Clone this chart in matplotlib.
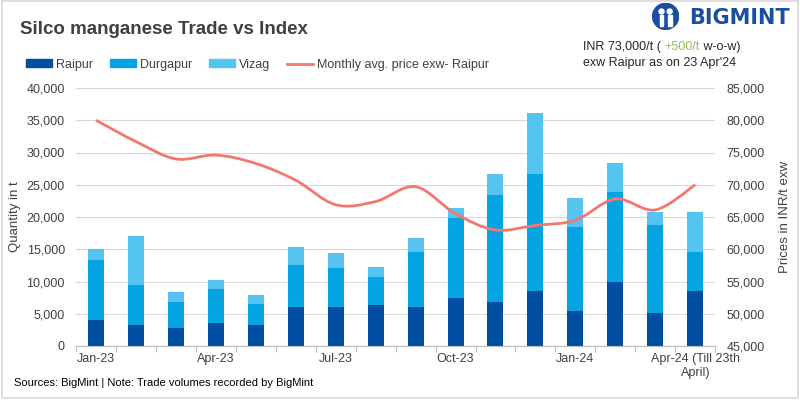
import matplotlib.pyplot as plt
import numpy as np
from matplotlib.patches import Patch, PathPatch, Rectangle, Circle
from matplotlib.lines import Line2D
from matplotlib.path import Path

plt.rcParams["font.family"] = ["Liberation Sans", "DejaVu Sans"]

months = ["Jan-23", "Feb-23", "Mar-23", "Apr-23", "May-23", "Jun-23", "Jul-23", "Aug-23",
          "Sep-23", "Oct-23", "Nov-23", "Dec-23", "Jan-24", "Feb-24", "Mar-24",
          "Apr-24 (Till 23th\nApril)"]
raipur = [4100, 3300, 2850, 3500, 3200, 6000, 6100, 6300, 6000, 7500, 6750, 8450, 5350, 9850, 5050, 8450]
durgapur = [9200, 6100, 3900, 5300, 3250, 6500, 5950, 4350, 8550, 12300, 16650, 18200, 13100, 14000, 13700, 6100]
vizag = [1700, 7600, 1550, 1400, 1400, 2800, 2350, 1550, 2150, 1550, 3300, 9500, 4500, 4500, 2000, 6200]
price = [80000, 76700, 74000, 74600, 73300, 70700, 66900, 67400, 69700, 65500, 63000, 63700,
         64500, 67800, 66100, 70000]
tick_idx = [0, 3, 6, 9, 12, 15]

C_RAI = "#034ea2"
C_DUR = "#05a3e1"
C_VIZ = "#56c4f1"
C_LINE = "#f2776f"
TXT = "#404040"

fig = plt.figure(figsize=(8, 4), dpi=100)
fig.patches.append(Rectangle((0.002, 0.004), 0.996, 0.993, transform=fig.transFigure,
                             fill=False, edgecolor="#d9d9d9", linewidth=1.2))
ax = fig.add_axes([0.095, 0.135, 0.799, 0.645])
ax2 = ax.twinx()

x = np.arange(len(months))
w = 0.4
ax.bar(x, raipur, w, color=C_RAI, zorder=3)
ax.bar(x, durgapur, w, bottom=raipur, color=C_DUR, zorder=3)
ax.bar(x, vizag, w, bottom=np.array(raipur) + np.array(durgapur), color=C_VIZ, zorder=3)

# smoothed price line (bezier through the monthly points)
pts = np.column_stack([x, price]).astype(float)
verts = [pts[0]]
codes = [Path.MOVETO]
n = len(pts)
for i in range(n - 1):
    p0 = pts[max(i - 1, 0)]
    p1 = pts[i]
    p2 = pts[i + 1]
    p3 = pts[min(i + 2, n - 1)]
    c1 = p1 + (p2 - p0) / 6.0
    c2 = p2 - (p3 - p1) / 6.0
    verts += [c1, c2, p2]
    codes += [Path.CURVE4] * 3
ax2.add_patch(PathPatch(Path(verts, codes), facecolor="none", edgecolor=C_LINE,
                        linewidth=2, zorder=4))

ax.set_xlim(-0.5, len(months) - 0.5)
ax.set_ylim(0, 40000)
ax.set_yticks(range(0, 40001, 5000))
ax.set_yticklabels([f"{v:,}" for v in range(0, 40001, 5000)])
ax2.set_ylim(45000, 85000)
ax2.set_yticks(range(45000, 85001, 5000))
ax2.set_yticklabels([f"{v:,}" for v in range(45000, 85001, 5000)])

ax.set_xticks(np.arange(-0.5, len(months), 1))
ax.set_xticklabels([])
ax.tick_params(axis="x", which="major", length=4, color="#bfbfbf")
ax.set_xticks(tick_idx, minor=True)
ax.set_xticklabels([months[i] for i in tick_idx], minor=True)
ax.tick_params(axis="x", which="minor", length=0, pad=5, labelsize=9, labelcolor=TXT)
ax.tick_params(axis="y", length=0, labelsize=9, labelcolor=TXT, pad=8)
ax2.tick_params(axis="y", length=0, labelsize=9, labelcolor=TXT, pad=8)

ax.grid(axis="y", color="#d9d9d9", linewidth=0.8, zorder=0)
for a in (ax, ax2):
    for s in ("top", "left", "right"):
        a.spines[s].set_visible(False)
    a.spines["bottom"].set_color("#bfbfbf")
ax.set_ylabel("Quantity in t", fontsize=9.5, color=TXT, labelpad=4)
ax2.set_ylabel("Prices in INR/t exw", fontsize=9.5, color=TXT, labelpad=10)

fig.text(0.025, 0.925, "Silco manganese Trade vs Index", fontsize=13.5, fontweight="bold",
         color=TXT, va="center")

handles = [Patch(color=C_RAI), Patch(color=C_DUR), Patch(color=C_VIZ),
           Line2D([0], [0], color=C_LINE, linewidth=2)]
labels = ["Raipur", "Durgapur", "Vizag", "Monthly avg. price exw- Raipur"]
fig.legend(handles, labels, loc="center left", bbox_to_anchor=(0.018, 0.838), ncol=4,
           frameon=False, fontsize=9, handlelength=2.1, handleheight=0.6,
           columnspacing=1.3, handletextpad=0.35, labelcolor=TXT)

# price note
t1 = fig.text(0.729, 0.882, "INR 73,000/t ( ", fontsize=9, color="#262626", va="center")
t2 = fig.text(0, 0, "+500/t", fontsize=9, color="#8cc152", va="center")
t3 = fig.text(0, 0, " w-o-w)", fontsize=9, color="#262626", va="center")
fig.canvas.draw()
r = fig.canvas.get_renderer()
inv = fig.transFigure.inverted()
e1 = inv.transform(t1.get_window_extent(r))
t2.set_position((e1[1][0], 0.882))
e2 = inv.transform(t2.get_window_extent(r))
t3.set_position((e2[1][0], 0.882))
fig.text(0.729, 0.842, "exw Raipur as on 23 Apr'24", fontsize=9, color="#262626", va="center")

# logo
logo_ax = fig.add_axes([0.815, 0.925, 0.034, 0.068])
logo_ax.set_xlim(0, 1)
logo_ax.set_ylim(0, 1)
logo_ax.axis("off")
logo_ax.add_patch(Circle((0.5, 0.5), 0.48, color="#1a4fa0"))
logo_ax.add_patch(Circle((0.35, 0.68), 0.09, color="white"))
logo_ax.add_patch(Circle((0.65, 0.68), 0.09, color="white"))
logo_ax.add_patch(Rectangle((0.28, 0.15), 0.13, 0.4, color="white"))
logo_ax.add_patch(Rectangle((0.59, 0.15), 0.13, 0.4, color="white"))
fig.text(0.862, 0.956, "BIGMINT", fontsize=15, fontweight="bold", color="#1a4fa0",
         va="center", fontfamily="DejaVu Sans")

fig.text(0.018, 0.043, "Sources: BigMint | Note: Trade volumes recorded by BigMint",
         fontsize=8, color="black", va="center")

fig.savefig("out.png", dpi=100)
